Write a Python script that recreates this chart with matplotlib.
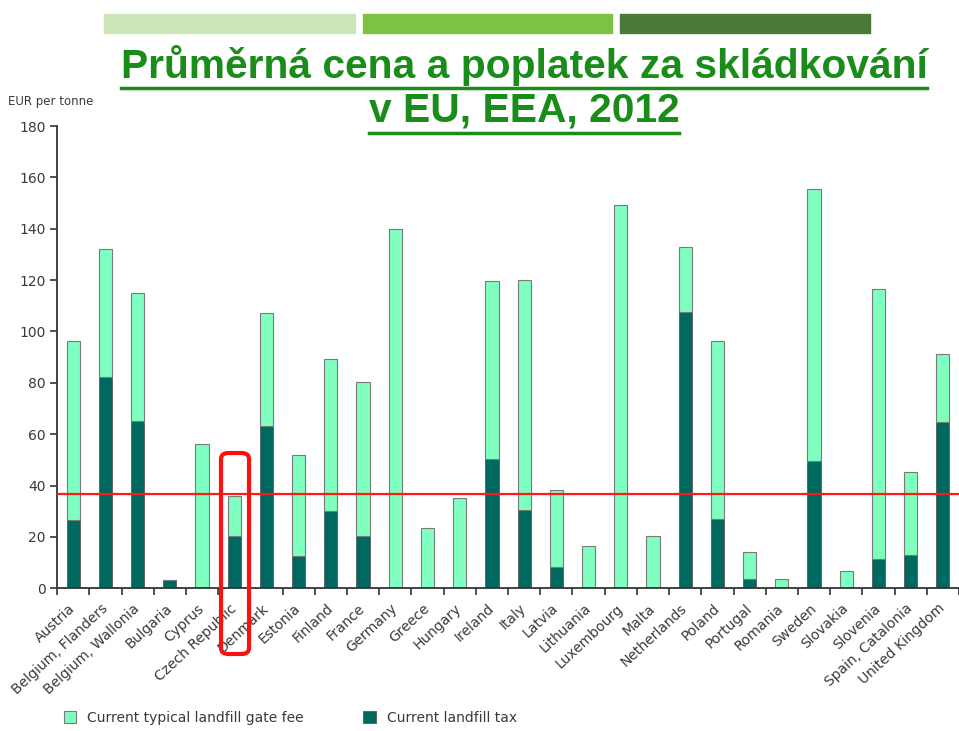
import numpy as np
import matplotlib
matplotlib.use("Agg")
import matplotlib.pyplot as plt
from matplotlib import font_manager
from matplotlib.patches import Rectangle, FancyBboxPatch, Patch
from matplotlib.lines import Line2D

countries = ["Austria", "Belgium, Flanders", "Belgium, Wallonia", "Bulgaria", "Cyprus",
             "Czech Republic", "Denmark", "Estonia", "Finland", "France", "Germany",
             "Greece", "Hungary", "Ireland", "Italy", "Latvia", "Lithuania", "Luxembourg",
             "Malta", "Netherlands", "Poland", "Portugal", "Romania", "Sweden", "Slovakia",
             "Slovenia", "Spain, Catalonia", "United Kingdom"]
landfill_tax = [26.4, 82.4, 65.2, 3.1, 0, 20.3, 63.1, 12.4, 30.2, 20.3, 0,
                0, 0, 50.2, 30.3, 8.3, 0, 0,
                0, 107.6, 27.1, 3.8, 0, 49.4, 0,
                11.3, 12.8, 64.7]
gate_fee = [69.8, 49.7, 49.6, 0, 56.1, 15.7, 44.1, 39.6, 59.2, 60.2, 140.0,
            23.6, 35.0, 69.5, 89.7, 29.9, 16.3, 149.3,
            20.3, 25.1, 69.3, 10.3, 3.8, 106.1, 6.9,
            105.2, 32.6, 26.5]
reference_value = 36.7
yticks = [0, 20, 40, 60, 80, 100, 120, 140, 160, 180]

title_lines = ["Průměrná cena a poplatek za skládkování", "v EU, EEA, 2012"]
legend_labels = ["Current typical landfill gate fee", "Current landfill tax"]

available = {f.name for f in font_manager.fontManager.ttflist}
title_font = "Liberation Sans Narrow" if "Liberation Sans Narrow" in available else "Liberation Sans"

LIGHT = "#7fffbf"
DARK = "#00695f"
TXT = "#3a3a3a"
GREEN = "#1a8c1a"

W, H = 959, 731
fig = plt.figure(figsize=(W / 100, H / 100), dpi=100)

def fx(px):
    return px / W

def fy(py):
    return 1 - py / H

ax = fig.add_axes([fx(57.1), fy(588.3), 1 - fx(57.1), (588.3 - 126) / H])
x = np.arange(len(countries))
ax.bar(x, landfill_tax, width=0.41, color=DARK, edgecolor="#5a5a5a", linewidth=0.6, zorder=2)
ax.bar(x, gate_fee, width=0.41, bottom=landfill_tax, color=LIGHT, edgecolor="#7a7a7a",
       linewidth=0.8, zorder=2)
ax.axhline(reference_value, color="#ff1a1a", lw=1.6, zorder=3)

ax.set_xlim(-0.5, 27.4)
ax.set_ylim(0, 180)
ax.set_yticks(yticks)
ax.set_yticklabels([str(v) for v in yticks], fontsize=10, color=TXT)
ax.set_xticks(x)
ax.set_xticklabels(countries, rotation=43, ha="right", va="center", rotation_mode="anchor",
                   fontsize=10, color=TXT)
ax.tick_params(axis="x", which="major", length=0, pad=13)
ax.set_xticks(np.arange(-0.5, len(countries), 1), minor=True)
ax.tick_params(axis="x", which="minor", length=5, width=1.2, color="#333333", direction="out")
ax.tick_params(axis="y", length=5, width=1.2, color="#333333", pad=3)
for s in ["top", "right"]:
    ax.spines[s].set_visible(False)
for s in ["left", "bottom"]:
    ax.spines[s].set_color("#333333")
    ax.spines[s].set_linewidth(1.3)

fig.text(fx(8), fy(101), "EUR per tonne", fontsize=8.5, color=TXT, va="center", ha="left")

# decorative bars at top
for (x0, x1), c in zip([(104, 355), (363, 612), (620, 870)], ["#cde6b8", "#7dc242", "#4a7a3a"]):
    fig.patches.append(Rectangle((fx(x0), fy(33)), fx(x1) - fx(x0), (33 - 14) / H,
                                 transform=fig.transFigure, color=c, zorder=1))

# title with underline
renderer = fig.canvas.get_renderer()
for line, yc, yu in zip(title_lines, [66, 111], [88, 133]):
    t = fig.text(fx(524), fy(yc), line, fontsize=29.3, fontweight="bold", color=GREEN,
                 ha="center", va="center", family=title_font)
    bb = t.get_window_extent(renderer=renderer)
    fig.lines.append(Line2D([bb.x0 / W, bb.x1 / W], [fy(yu), fy(yu)], transform=fig.transFigure,
                            color=GREEN, lw=2.5))

# red rounded box highlighting Czech Republic
box = FancyBboxPatch((fx(221), fy(654)), fx(249) - fx(221), (654 - 453) / H,
                     boxstyle="round,pad=0,rounding_size=0.008", transform=fig.transFigure,
                     fill=False, edgecolor="#ff1010", lw=3, zorder=10)
fig.patches.append(box)

handles = [Patch(facecolor=LIGHT, edgecolor="#7a7a7a", lw=0.8),
           Patch(facecolor=DARK, edgecolor="#5a5a5a", lw=0.6)]
fig.legend(handles, legend_labels, loc="center left", bbox_to_anchor=(fx(51), fy(718)),
           ncol=2, frameon=False, fontsize=10, handlelength=0.9, handleheight=0.9,
           columnspacing=4.3, handletextpad=0.8, labelcolor=TXT)

fig.savefig("out.png", dpi=100)
